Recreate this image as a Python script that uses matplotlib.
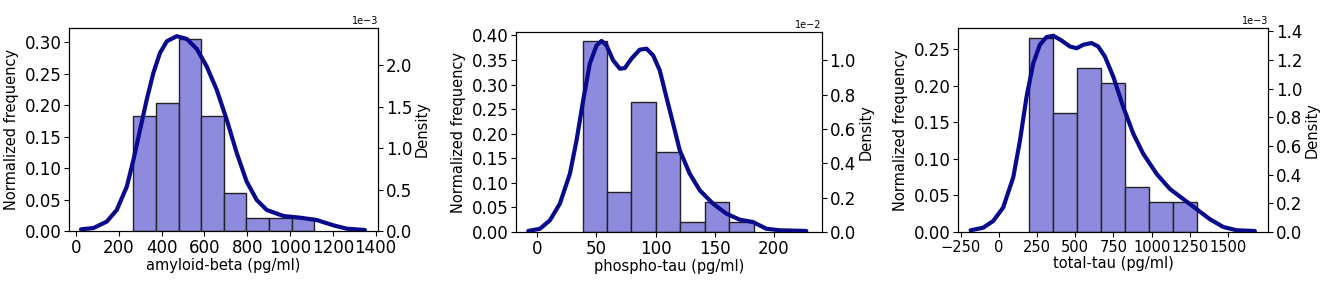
import numpy as np
import matplotlib
matplotlib.use('Agg')
import matplotlib.pyplot as plt

# ---- data ----
# amyloid-beta
ab_edges = np.linspace(268, 1113, 9)
ab_freq = [9/49, 10/49, 15/49, 9/49, 3/49, 1/49, 1/49, 1/49]
ab_kde_x = [23, 81, 143, 190, 237, 268, 299, 330, 361, 392, 424, 470, 517, 564,
            610, 657, 704, 751, 797, 844, 891, 969, 1047, 1124, 1202, 1265, 1350]
ab_kde_y = [0.02, 0.036, 0.113, 0.254, 0.536, 0.859, 1.222, 1.585, 1.907, 2.149,
            2.290, 2.351, 2.319, 2.198, 1.988, 1.706, 1.343, 0.940, 0.597, 0.375,
            0.254, 0.181, 0.161, 0.133, 0.069, 0.028, 0.012]  # x1e-3

# phospho-tau
pt_edges = np.linspace(38.3, 182.8, 8)
pt_freq = [19/49, 4/49, 13/49, 8/49, 1/49, 3/49, 1/49]
pt_kde_x = [-7.6, 2.3, 10.7, 19.1, 27.6, 33.2, 38.8, 44.4, 50.1, 54.3, 58.5, 64.1,
            69.8, 74.0, 79.6, 86.6, 92.3, 97.9, 103.5, 109.1, 114.8, 120.4, 128.8,
            137.3, 148.5, 159.8, 171.0, 182.3, 193.5, 204.8, 227.3]
pt_kde_y = [0.006, 0.019, 0.068, 0.165, 0.340, 0.534, 0.767, 0.981, 1.087, 1.113,
            1.087, 1.000, 0.951, 0.955, 1.010, 1.062, 1.068, 1.029, 0.942, 0.786,
            0.631, 0.476, 0.340, 0.243, 0.165, 0.107, 0.072, 0.058, 0.019, 0.010,
            0.006]  # x1e-2

# total-tau
tt_edges = np.linspace(196, 1297, 8)
tt_freq = [13/49, 8/49, 11/49, 10/49, 3/49, 2/49, 2/49]
tt_kde_x = [-185, -103, -37, 28, 94, 138, 181, 225, 268, 312, 356, 410, 465, 509,
            552, 607, 650, 694, 749, 814, 880, 945, 1033, 1120, 1207, 1295, 1382,
            1469, 1557, 1676]
tt_kde_y = [0.012, 0.030, 0.077, 0.171, 0.382, 0.639, 0.944, 1.178, 1.307, 1.361,
            1.370, 1.337, 1.295, 1.283, 1.307, 1.319, 1.295, 1.225, 1.084, 0.874,
            0.686, 0.546, 0.405, 0.300, 0.230, 0.159, 0.089, 0.035, 0.012, 0.007]  # x1e-3

panels = [
    dict(edges=ab_edges, freq=ab_freq, kx=ab_kde_x, ky=np.array(ab_kde_y) * 1e-3,
         xlabel='amyloid-beta (pg/ml)', xlim=(-33, 1411), xticks=np.arange(0, 1401, 200),
         ylim=(0, 0.323), yticks=np.arange(0, 0.31, 0.05),
         ylim2=(0, 2.45e-3), yticks2=np.arange(0, 2.01e-3, 0.5e-3),
         rect=[0.0521, 0.1837, 0.2332, 0.7173], xtick_size=12),
    dict(edges=pt_edges, freq=pt_freq, kx=pt_kde_x, ky=np.array(pt_kde_y) * 1e-2,
         xlabel='phospho-tau (pg/ml)', xlim=(-18, 240.5), xticks=np.arange(0, 201, 50),
         ylim=(0, 0.407), yticks=np.arange(0, 0.41, 0.05),
         ylim2=(0, 1.165e-2), yticks2=np.arange(0, 1.01e-2, 0.2e-2),
         rect=[0.3894, 0.1802, 0.2309, 0.7067], xtick_size=12),
    dict(edges=tt_edges, freq=tt_freq, kx=tt_kde_x, ky=np.array(tt_kde_y) * 1e-3,
         xlabel='total-tau (pg/ml)', xlim=(-268, 1762), xticks=np.arange(-250, 1501, 250),
         ylim=(0, 0.279), yticks=np.arange(0, 0.26, 0.05),
         ylim2=(0, 1.424e-3), yticks2=np.arange(0, 1.41e-3, 0.2e-3),
         rect=[0.7230, 0.1802, 0.2340, 0.7208], xtick_size=10.5),
]

fig = plt.figure(figsize=(13.25, 2.83), dpi=100)

for p in panels:
    ax = fig.add_axes(p['rect'])
    edges = p['edges']
    ax.bar(edges[:-1], p['freq'], width=np.diff(edges), align='edge',
           color='#8e8ade', edgecolor='#222222', linewidth=1.0)
    ax.set_xlim(*p['xlim'])
    ax.set_ylim(*p['ylim'])
    ax.set_xticks(p['xticks'])
    ax.set_yticks(p['yticks'])
    ax.yaxis.set_major_formatter(matplotlib.ticker.FormatStrFormatter('%.2f'))
    ax.set_xlabel(p['xlabel'], fontsize=10.5, labelpad=1)
    ax.set_ylabel('Normalized frequency', fontsize=10.5, labelpad=4)
    ax.tick_params(axis='y', labelsize=12, pad=2)
    ax.tick_params(axis='x', labelsize=p['xtick_size'], pad=2)

    ax2 = ax.twinx()
    ax2.plot(p['kx'], p['ky'], color='#0a0a8c', linewidth=3,
             solid_joinstyle='round', solid_capstyle='round')
    ax2.set_ylim(*p['ylim2'])
    ax2.set_yticks(p['yticks2'])
    ax2.ticklabel_format(axis='y', style='sci', scilimits=(0, 0))
    ax2.yaxis.get_offset_text().set_fontsize(7)
    ax2.set_ylabel('Density', fontsize=10.5, labelpad=2)
    ax2.tick_params(labelsize=12, pad=2)

plt.savefig('out.png', dpi=100)
